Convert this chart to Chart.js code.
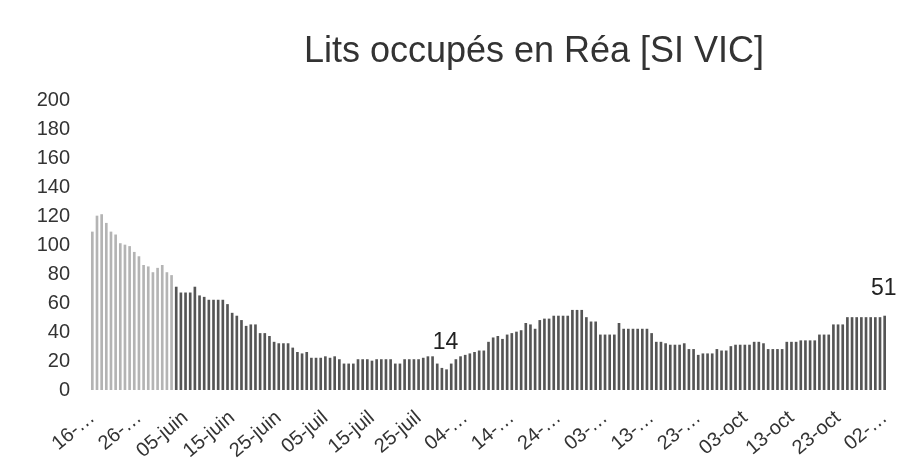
<!DOCTYPE html>
<html>
<head>
<meta charset="utf-8">
<script src="https://cdn.jsdelivr.net/npm/chart.js@4/dist/chart.umd.min.js"></script>
<style>
html,body{margin:0;padding:0;background:#fff;}
#wrap{width:912px;height:470px;position:relative;}
</style>
</head>
<body>
<div id="wrap"><canvas id="c" width="912" height="470"></canvas></div>
<script>
// Chart title
const chartTitle = "Lits occupés en Réa [SI VIC]";
// First day of the series (16 May) and month abbreviations used for categories
const startDay = 16, startMonth = 4, year = 2020;
const monthNames = ["janv","févr","mars","avr","mai","juin","juil","août","sept","oct","nov","déc"];
// Tick labels shown every 10 days (as printed in the picture)
const tickLabels = ["16-…","26-…","05-juin","15-juin","25-juin","05-juil","15-juil","25-juil","04-…","14-…","24-…","03-…","13-…","23-…","03-oct","13-oct","23-oct","02-…"];
// Occupied ICU beds per day
const beds = [
 109,120,121,115,109,107,101,100,99,95,
 92,86,85,81,84,86,81,79,71,67,
 67,67,71,65,64,62,62,62,62,59,
 53,51,48,44,45,45,39,39,37,33,
 32,32,32,29,26,25,26,22,22,22,
 23,22,23,21,18,18,18,21,21,21,
 20,21,21,21,21,18,18,21,21,21,
 21,22,23,23,18,15,14,18,21,23,
 24,25,26,27,27,33,36,37,35,38,
 39,40,41,46,45,42,48,49,49,51,
 51,51,51,55,55,55,50,47,47,38,
 38,38,38,46,42,42,42,42,42,42,
 39,33,33,32,31,31,31,32,28,28,
 24,25,25,25,28,27,27,30,31,31,
 31,31,33,33,32,28,28,28,28,33,
 33,33,34,34,34,34,38,38,38,45,
 45,45,50,50,50,50,50,50,50,50,
 51
];
// Bars that carry a value label
const labeledDays = [76, 170];

const categories = beds.map((_, i) => {
  const d = new Date(year, startMonth, startDay + i);
  return String(d.getDate()).padStart(2, "0") + "-" + monthNames[d.getMonth()];
});

const FONT = "'Liberation Sans', Arial, sans-serif";

const titlePlugin = {
  id: "freeTitle",
  afterDraw(chart) {
    const ctx = chart.ctx;
    ctx.save();
    ctx.font = "36px " + FONT;
    ctx.fillStyle = "#333";
    ctx.textAlign = "center";
    ctx.textBaseline = "middle";
    ctx.fillText(chartTitle, 534, 52);
    ctx.restore();
  }
};

const valueLabels = {
  id: "valueLabels",
  afterDatasetsDraw(chart) {
    const ctx = chart.ctx;
    const meta = chart.getDatasetMeta(0);
    ctx.save();
    ctx.font = "23px " + FONT;
    ctx.fillStyle = "#222";
    ctx.textAlign = "center";
    ctx.textBaseline = "alphabetic";
    labeledDays.forEach(i => {
      const el = meta.data[i];
      ctx.fillText(String(beds[i]), el.x - 1, el.y - 21);
    });
    ctx.restore();
  }
};

new Chart(document.getElementById("c"), {
  type: "bar",
  data: {
    labels: categories,
    datasets: [{
      data: beds,
      backgroundColor: (c) => c.dataIndex < 18 ? "#b4b4b4" : "#555555",
      barThickness: 2,
      borderWidth: 0
    }]
  },
  options: {
    responsive: false,
    animation: false,
    layout: { padding: { top: 100, left: 0, right: 25, bottom: 0 } },
    plugins: { legend: { display: false }, tooltip: { enabled: false }, title: { display: false } },
    scales: {
      x: {
        offset: true,
        grid: { display: false, drawTicks: false },
        border: { display: false },
        ticks: {
          autoSkip: false,
          maxRotation: 40,
          minRotation: 40,
          padding: 16,
          color: "#333",
          font: { family: FONT, size: 20 },
          callback: (v, i) => (i % 10 === 0 ? tickLabels[i / 10] : null)
        },
        afterFit: (s) => { s.height = 80; s.paddingRight = 0; s.paddingLeft = 0; }
      },
      y: {
        min: 0,
        max: 200,
        grid: { display: false, drawTicks: false },
        border: { display: false },
        ticks: {
          stepSize: 20,
          padding: 20,
          color: "#333",
          font: { family: FONT, size: 20 }
        },
        afterFit: (s) => { s.width = 90; s.paddingTop = 0; s.paddingBottom = 0; }
      }
    }
  },
  plugins: [titlePlugin, valueLabels]
});
</script>
</body>
</html>
